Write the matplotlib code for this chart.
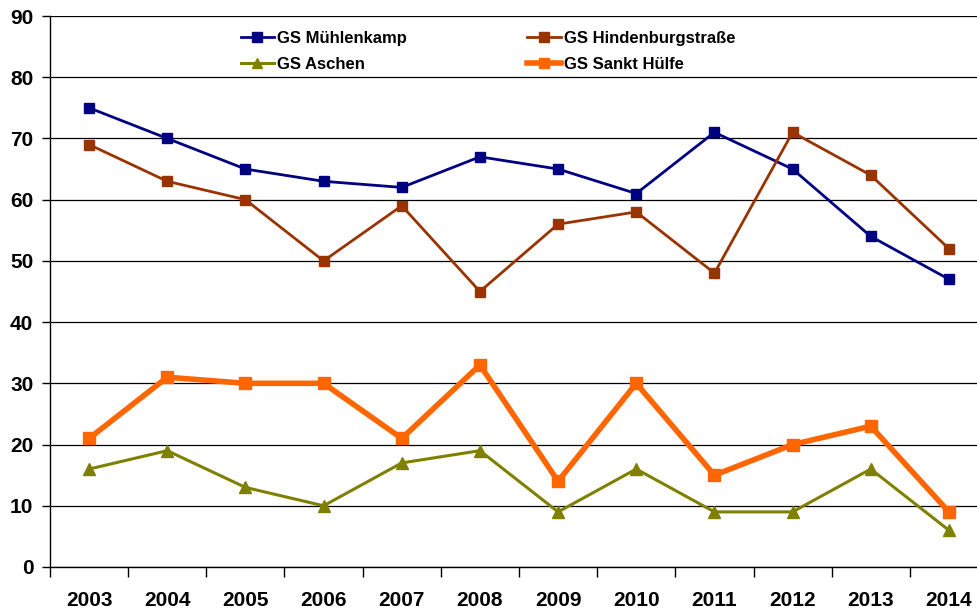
import matplotlib
matplotlib.use("Agg")
import matplotlib.pyplot as plt

years = ["2003", "2004", "2005", "2006", "2007", "2008",
         "2009", "2010", "2011", "2012", "2013", "2014"]
muehlenkamp = [75, 70, 65, 63, 62, 67, 65, 61, 71, 65, 54, 47]
hindenburg = [69, 63, 60, 50, 59, 45, 56, 58, 48, 71, 64, 52]
aschen = [16, 19, 13, 10, 17, 19, 9, 16, 9, 9, 16, 6]
sankt_huelfe = [21, 31, 30, 30, 21, 33, 14, 30, 15, 20, 23, 9]

plt.rcParams["font.family"] = ["Liberation Sans", "DejaVu Sans"]
plt.rcParams["font.weight"] = "bold"

W, H = 978, 611
fig = plt.figure(figsize=(W / 100, H / 100), dpi=100)
# axes run slightly past the right edge, like the original
left, right, top, bottom = 50, 988, 16, 567
ax = fig.add_axes([left / W, 1 - bottom / H, (right - left) / W, (bottom - top) / H])

x = list(range(len(years)))
l1, = ax.plot(x, muehlenkamp, color="#000080", lw=2, marker="s", ms=7.5, label="GS Mühlenkamp")
l2, = ax.plot(x, hindenburg, color="#993300", lw=2, marker="s", ms=7.5, label="GS Hindenburgstraße")
l3, = ax.plot(x, aschen, color="#808000", lw=2.2, marker="^", ms=8.5, label="GS Aschen")
l4, = ax.plot(x, sankt_huelfe, color="#FF6600", lw=4, marker="s", ms=8, label="GS Sankt Hülfe")

ax.set_xlim(-0.5, len(years) - 0.5)
ax.set_ylim(0, 90)
ax.set_yticks(range(0, 91, 10))
ax.yaxis.grid(True, color="black", lw=0.9)
ax.set_axisbelow(True)

ax.set_xticks([i - 0.5 for i in range(len(years) + 1)])
ax.set_xticklabels([])
ax.set_xticks(x, minor=True)
ax.set_xticklabels(years, minor=True, fontsize=15, fontweight="bold")
ax.tick_params(axis="x", which="major", direction="out", length=7, color="black", width=1)
ax.tick_params(axis="x", which="minor", length=0, pad=17)
ax.tick_params(axis="y", direction="out", length=6, width=1, labelsize=15, pad=6)
for lab in ax.get_yticklabels():
    lab.set_fontweight("bold")

for s in ["top", "right"]:
    ax.spines[s].set_visible(False)
ax.spines["left"].set_linewidth(1)
ax.spines["bottom"].set_linewidth(1)

# matplotlib fills legend columns first, so order handles to get row-wise layout
leg = ax.legend(handles=[l1, l3, l2, l4], ncol=2, loc="upper left",
                bbox_to_anchor=(0.1874, 1.0), frameon=False,
                prop={"weight": "bold", "size": 12}, handlelength=2.0,
                columnspacing=7.2, labelspacing=0.65, handletextpad=0.2,
                markerscale=0.9)

fig.savefig("out.png", dpi=100)
